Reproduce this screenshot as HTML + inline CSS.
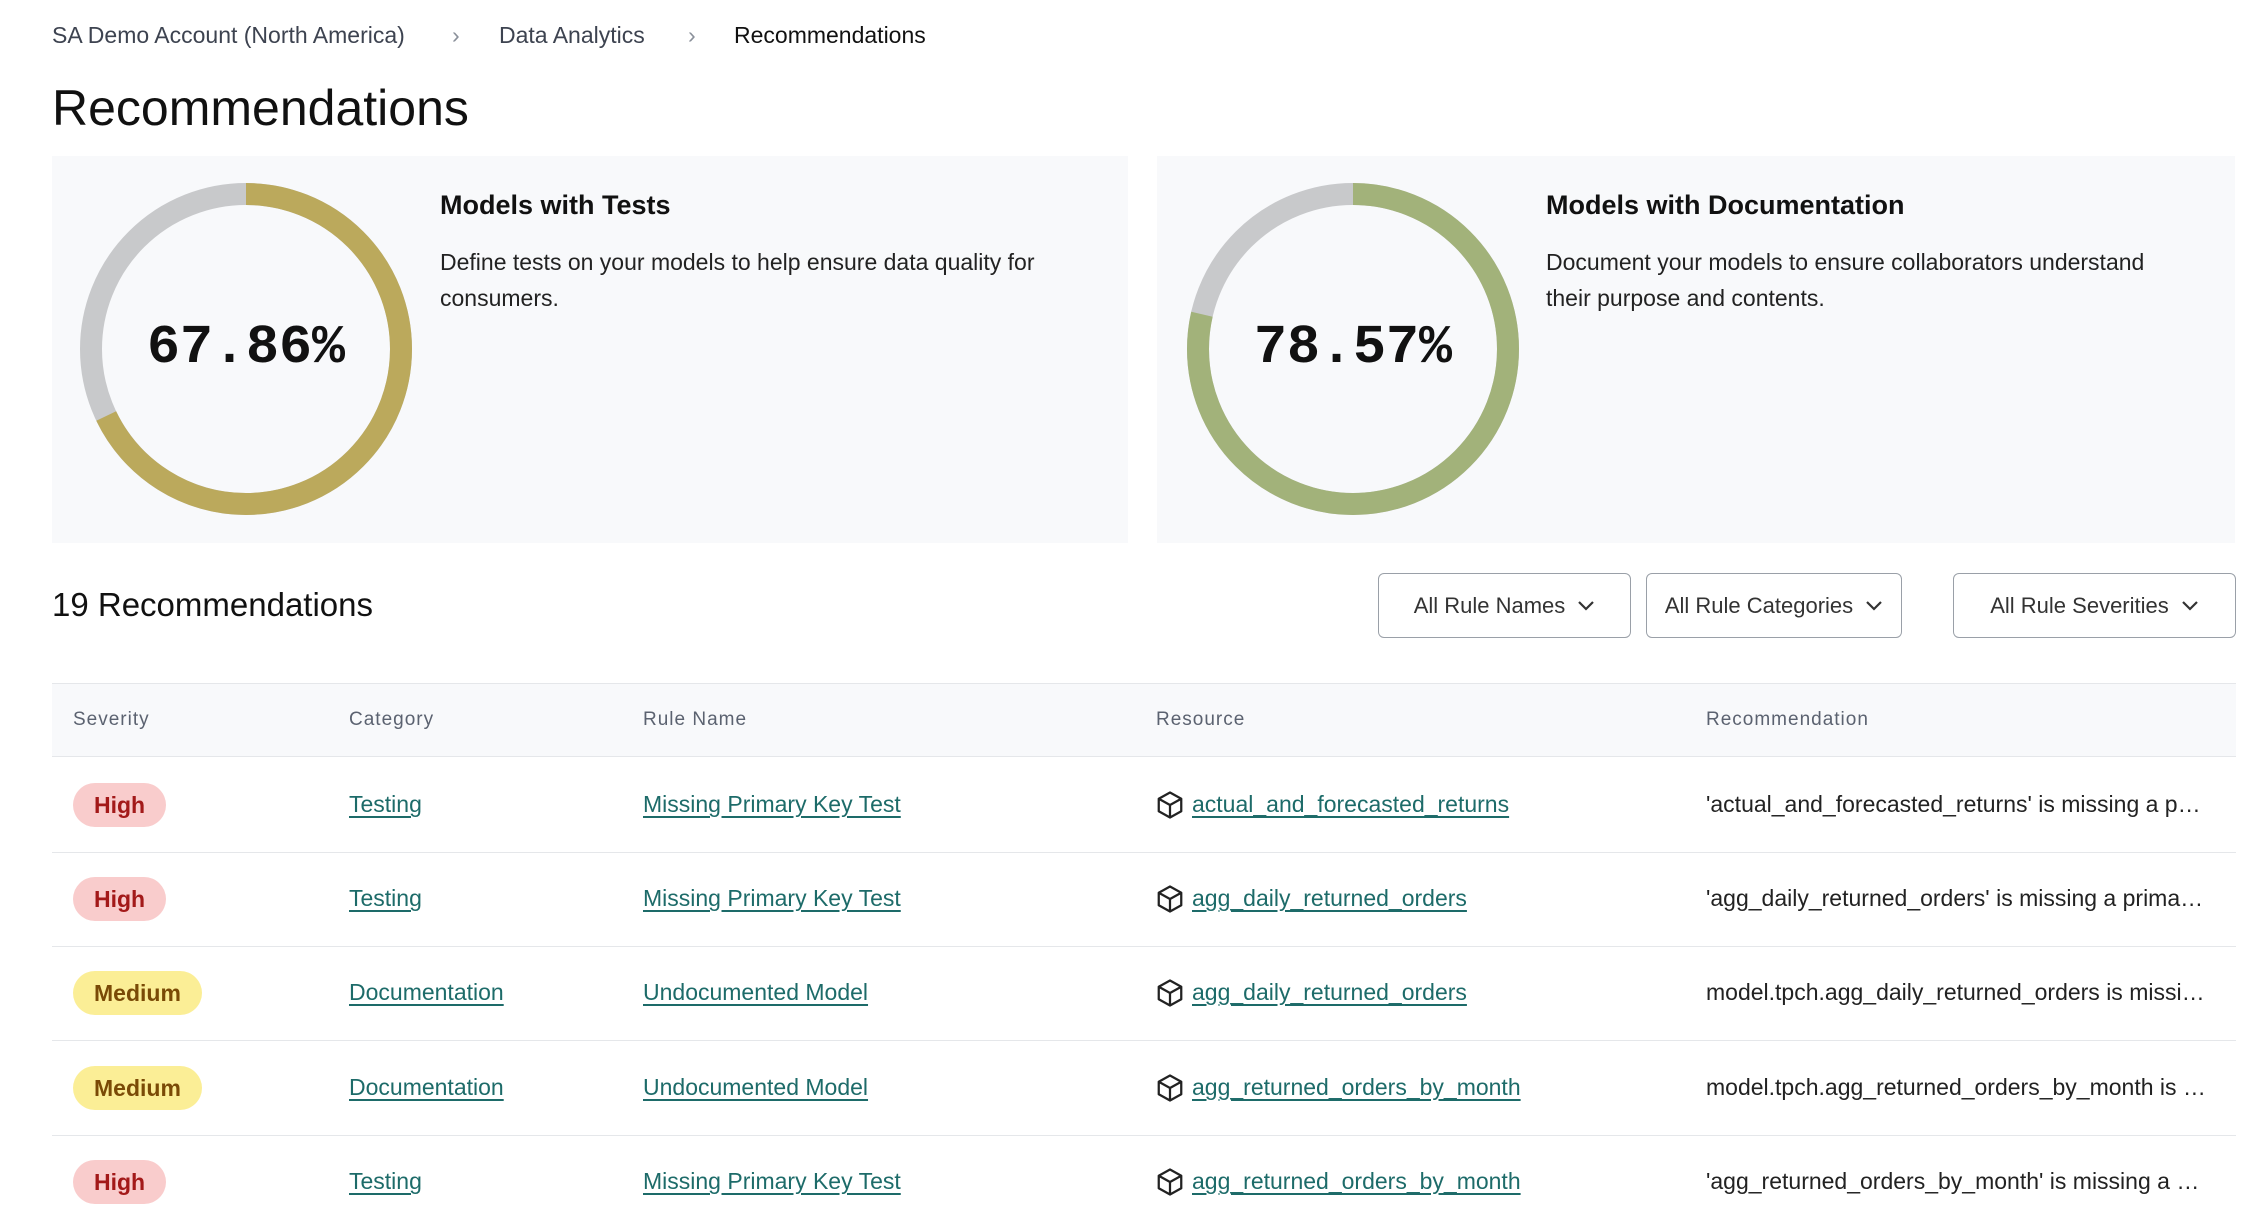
<!DOCTYPE html>
<html><head><meta charset="utf-8"><style>
*{margin:0;padding:0;box-sizing:border-box}
body{width:2248px;height:1220px;background:#fff;font-family:"Liberation Sans",sans-serif;color:#1a1a1a;position:relative;overflow:hidden}
.a{position:absolute;white-space:nowrap}
.crumb{top:22px;font-size:23px;color:#3d4350}
.card{position:absolute;top:156px;height:387px;background:#f8f9fb}
.pct{position:absolute;font-family:"Liberation Mono",monospace;font-size:55px;font-weight:bold;color:#111;text-align:center;width:300px}
.ct{font-size:27px;font-weight:bold;color:#111}
.cd{font-size:23px;line-height:36px;color:#222;white-space:normal;width:640px}
.dd{position:absolute;top:573px;height:65px;border:1.5px solid #9aa0a8;border-radius:6px;font-size:22px;color:#333;display:flex;align-items:center;justify-content:center;gap:12px;background:#fff}
.th{position:absolute;top:683px;left:52px;width:2184px;height:74px;background:#f8f9fb;border-top:1px solid #e5e7ea;border-bottom:1px solid #e5e7ea}
.hl{top:709px;font-size:19px;color:#5b6270;letter-spacing:1px}
.row{position:absolute;left:52px;width:2184px;height:1px;background:#e5e7ea}
.badge{position:absolute;height:44px;border-radius:22px;font-size:23px;display:flex;align-items:center;padding:0 21px;font-weight:600}
.high{background:#f9cccc;color:#a31919}
.med{background:#fbee96;color:#7a4a06}
.lk{font-size:23px;color:#1d6b69;text-decoration:underline;text-underline-offset:4px}
.rec{font-size:23px;color:#222;width:500px;overflow:hidden;text-overflow:ellipsis}
</style></head><body>
<div class="a crumb" style="left:52px">SA Demo Account (North America)</div>
<div class="a crumb" style="left:452px;color:#8a909a">&#x203A;</div>
<div class="a crumb" style="left:499px">Data Analytics</div>
<div class="a crumb" style="left:688px;color:#8a909a">&#x203A;</div>
<div class="a crumb" style="left:734px;color:#111">Recommendations</div>
<div class="a" style="left:52px;top:79px;font-size:50px;color:#111">Recommendations</div>

<div class="card" style="left:52px;width:1076px"></div>
<div class="card" style="left:1157px;width:1078px"></div>

<svg class="a" style="left:0;top:0" width="2248" height="560">
<circle cx="246" cy="349" r="155" fill="none" stroke="#c8c9cb" stroke-width="22"/>
<circle cx="246" cy="349" r="155" fill="none" stroke="#bba95c" stroke-width="22" stroke-dasharray="660.9 1000" transform="rotate(-90 246 349)"/>
<circle cx="1353" cy="349" r="155" fill="none" stroke="#c8c9cb" stroke-width="22"/>
<circle cx="1353" cy="349" r="155" fill="none" stroke="#a2b27a" stroke-width="22" stroke-dasharray="765.2 1000" transform="rotate(-90 1353 349)"/>
</svg>
<div class="pct" style="left:96px;top:316px">67.86%</div>
<div class="pct" style="left:1203px;top:316px">78.57%</div>
<div class="a ct" style="left:440px;top:190px">Models with Tests</div>
<div class="a cd" style="left:440px;top:244px">Define tests on your models to help ensure data quality for consumers.</div>
<div class="a ct" style="left:1546px;top:190px">Models with Documentation</div>
<div class="a cd" style="left:1546px;top:244px">Document your models to ensure collaborators understand their purpose and contents.</div>

<div class="a" style="left:52px;top:586px;font-size:33px;color:#111">19 Recommendations</div>
<div class="dd" style="left:1378px;width:253px">All Rule Names <svg width="18" height="12"><path d="M2 2l7 7 7-7" fill="none" stroke="#333" stroke-width="2.2"/></svg></div>
<div class="dd" style="left:1646px;width:256px">All Rule Categories <svg width="18" height="12"><path d="M2 2l7 7 7-7" fill="none" stroke="#333" stroke-width="2.2"/></svg></div>
<div class="dd" style="left:1953px;width:283px">All Rule Severities <svg width="18" height="12"><path d="M2 2l7 7 7-7" fill="none" stroke="#333" stroke-width="2.2"/></svg></div>

<div class="th"></div>
<div class="a hl" style="left:73px">Severity</div>
<div class="a hl" style="left:349px">Category</div>
<div class="a hl" style="left:643px">Rule Name</div>
<div class="a hl" style="left:1156px">Resource</div>
<div class="a hl" style="left:1706px">Recommendation</div>

<div class="row" style="top:852px"></div>
<div class="row" style="top:946px"></div>
<div class="row" style="top:1040px"></div>
<div class="row" style="top:1135px"></div>

<div class="badge high" style="left:73px;top:783px">High</div>
<div class="a lk" style="left:349px;top:791px">Testing</div>
<div class="a lk" style="left:643px;top:791px">Missing Primary Key Test</div>
<svg class="a" style="left:1155px;top:790px" width="30" height="30" viewBox="0 0 24 24"><path d="M12 2l9 5v10l-9 5-9-5V7z M3 7l9 5 9-5 M12 12v10" fill="none" stroke="#222" stroke-width="1.8" stroke-linejoin="round"/></svg>
<div class="a lk" style="left:1192px;top:791px">actual_and_forecasted_returns</div>
<div class="a rec" style="left:1706px;top:791px">'actual_and_forecasted_returns' is missing a primary key test</div>

<div class="badge high" style="left:73px;top:877px">High</div>
<div class="a lk" style="left:349px;top:885px">Testing</div>
<div class="a lk" style="left:643px;top:885px">Missing Primary Key Test</div>
<svg class="a" style="left:1155px;top:884px" width="30" height="30" viewBox="0 0 24 24"><path d="M12 2l9 5v10l-9 5-9-5V7z M3 7l9 5 9-5 M12 12v10" fill="none" stroke="#222" stroke-width="1.8" stroke-linejoin="round"/></svg>
<div class="a lk" style="left:1192px;top:885px">agg_daily_returned_orders</div>
<div class="a rec" style="left:1706px;top:885px">'agg_daily_returned_orders' is missing a primary key test</div>

<div class="badge med" style="left:73px;top:971px">Medium</div>
<div class="a lk" style="left:349px;top:979px">Documentation</div>
<div class="a lk" style="left:643px;top:979px">Undocumented Model</div>
<svg class="a" style="left:1155px;top:978px" width="30" height="30" viewBox="0 0 24 24"><path d="M12 2l9 5v10l-9 5-9-5V7z M3 7l9 5 9-5 M12 12v10" fill="none" stroke="#222" stroke-width="1.8" stroke-linejoin="round"/></svg>
<div class="a lk" style="left:1192px;top:979px">agg_daily_returned_orders</div>
<div class="a rec" style="left:1706px;top:979px">model.tpch.agg_daily_returned_orders is missing documentation</div>

<div class="badge med" style="left:73px;top:1066px">Medium</div>
<div class="a lk" style="left:349px;top:1074px">Documentation</div>
<div class="a lk" style="left:643px;top:1074px">Undocumented Model</div>
<svg class="a" style="left:1155px;top:1073px" width="30" height="30" viewBox="0 0 24 24"><path d="M12 2l9 5v10l-9 5-9-5V7z M3 7l9 5 9-5 M12 12v10" fill="none" stroke="#222" stroke-width="1.8" stroke-linejoin="round"/></svg>
<div class="a lk" style="left:1192px;top:1074px">agg_returned_orders_by_month</div>
<div class="a rec" style="left:1706px;top:1074px">model.tpch.agg_returned_orders_by_month is missing documentation</div>

<div class="badge high" style="left:73px;top:1160px">High</div>
<div class="a lk" style="left:349px;top:1168px">Testing</div>
<div class="a lk" style="left:643px;top:1168px">Missing Primary Key Test</div>
<svg class="a" style="left:1155px;top:1167px" width="30" height="30" viewBox="0 0 24 24"><path d="M12 2l9 5v10l-9 5-9-5V7z M3 7l9 5 9-5 M12 12v10" fill="none" stroke="#222" stroke-width="1.8" stroke-linejoin="round"/></svg>
<div class="a lk" style="left:1192px;top:1168px">agg_returned_orders_by_month</div>
<div class="a rec" style="left:1706px;top:1168px">'agg_returned_orders_by_month' is missing a primary key test</div>
</body></html>
